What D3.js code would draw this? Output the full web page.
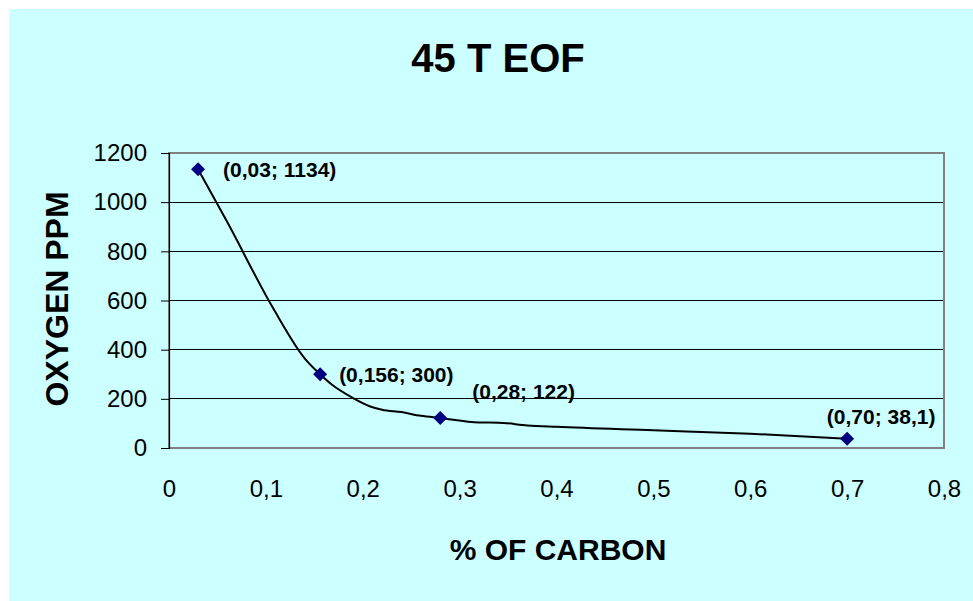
<!DOCTYPE html>
<html>
<head>
<meta charset="utf-8">
<script src="https://cdn.jsdelivr.net/npm/d3@7"></script>
<style>
	body { margin: 0; background: #fff; }
	svg { display: block; font-family: Arial, "Liberation Sans", sans-serif; }
</style>
</head>
<body>
<svg id="chart" width="973" height="601"></svg>
<script>
// data
// smoothed curve (carbon %, oxygen ppm)
const curveCarbon = [0.03, 0.06, 0.108, 0.14, 0.156, 0.168, 0.19, 0.207, 0.22, 0.24, 0.26, 0.28, 0.32, 0.34, 0.37, 0.40, 0.50, 0.60, 0.70]
const curveOxygen = [1134, 920, 565, 365, 300, 258, 203, 170, 156, 146, 131, 122, 104, 103, 92, 86, 72, 58, 38.1]

// measured points with markers
const pointCarbon = [0.03, 0.156, 0.28, 0.70]
const pointOxygen = [1134, 300, 122, 38.1]
const pointLabels = ["(0,03; 1134)", "(0,156; 300)", "(0,28; 122)", "(0,70; 38,1)"]

const xTicks = [0, 0.1, 0.2, 0.3, 0.4, 0.5, 0.6, 0.7, 0.8]
const yTicks = [0, 200, 400, 600, 800, 1000, 1200]

// label placement (dx, dy from marker, anchor)
const labelPlace = [
	{ dx: 25, dy: 8, anchor: "start" },
	{ dx: 19, dy: 8, anchor: "start" },
	{ dx: 32, dy: -19, anchor: "start" },
	{ dx: 34, dy: -15, anchor: "middle" }
]

const svg = d3.select("#chart")

// background
svg.append("rect")
	.attr("x", 9).attr("y", 9)
	.attr("width", 964).attr("height", 592)
	.attr("fill", "#CCFFFF")

let margin = { top: 153, left: 169 },
	width = 775,
	height = 295

let chart = svg.append("g")
	.attr("transform", "translate(" + margin.left + "," + margin.top + ")")

let xScale = d3.scaleLinear().domain([0, 0.8]).range([0, width])
let yScale = d3.scaleLinear().domain([0, 1200]).range([height, 0])

// gridlines
chart.append("g")
	.selectAll("line")
	.data(yTicks.filter(d => d > 0 && d < 1200))
	.join("line")
	.attr("x1", 0).attr("x2", width)
	.attr("y1", d => yScale(d)).attr("y2", d => yScale(d))
	.attr("stroke", "#000")
	.attr("stroke-width", 1)
	.attr("shape-rendering", "crispEdges")

// plot border
chart.append("rect")
	.attr("x", 0).attr("y", 0)
	.attr("width", width).attr("height", height)
	.attr("fill", "none")
	.attr("stroke", "#808080")
	.attr("stroke-width", 2)

// y axis
let yAxis = chart.append("g")
	.call(d3.axisLeft(yScale).tickValues(yTicks).tickSize(8).tickPadding(14).tickFormat(d3.format("d")))
yAxis.select(".domain").attr("stroke", "#000").attr("stroke-width", 1.2)
yAxis.selectAll(".tick line").attr("stroke", "#000")
yAxis.selectAll("text")
	.attr("font-size", 24)
	.attr("font-family", "Arial, 'Liberation Sans', sans-serif")
	.attr("fill", "#000")

// x axis (labels only)
let xAxis = chart.append("g")
	.attr("transform", "translate(0," + height + ")")
	.call(d3.axisBottom(xScale).tickValues(xTicks).tickSize(0).tickPadding(32)
		.tickFormat(d => d3.format("")(d).replace(".", ",")))
xAxis.select(".domain").remove()
xAxis.selectAll("text")
	.attr("font-size", 24)
	.attr("font-family", "Arial, 'Liberation Sans', sans-serif")
	.attr("fill", "#000")

// curve
let curveData = curveCarbon.map((c, i) => ({ x: c, y: curveOxygen[i] }))
chart.append("path")
	.datum(curveData)
	.attr("fill", "none")
	.attr("stroke", "#000")
	.attr("stroke-width", 2)
	.attr("d", d3.line()
		.x(d => xScale(d.x))
		.y(d => yScale(d.y))
		.curve(d3.curveMonotoneX))

// markers
let pointData = pointCarbon.map((c, i) => ({ x: c, y: pointOxygen[i], label: pointLabels[i], place: labelPlace[i] }))
chart.selectAll(".marker")
	.data(pointData)
	.join("path")
	.attr("class", "marker")
	.attr("transform", d => "translate(" + xScale(d.x) + "," + yScale(d.y) + ")")
	.attr("d", "M0,-7L7,0L0,7L-7,0Z")
	.attr("fill", "#000080")

// data labels
chart.selectAll(".dlabel")
	.data(pointData)
	.join("text")
	.attr("class", "dlabel")
	.attr("x", d => xScale(d.x) + d.place.dx)
	.attr("y", d => yScale(d.y) + d.place.dy)
	.attr("text-anchor", d => d.place.anchor)
	.attr("font-size", 21)
	.attr("font-weight", "bold")
	.attr("fill", "#000")
	.text(d => d.label)

// titles
svg.append("text")
	.attr("x", 498).attr("y", 72)
	.attr("text-anchor", "middle")
	.attr("font-size", 40)
	.attr("font-weight", "bold")
	.text("45 T EOF")

svg.append("text")
	.attr("x", 558).attr("y", 560)
	.attr("text-anchor", "middle")
	.attr("font-size", 30)
	.attr("font-weight", "bold")
	.text("% OF CARBON")

svg.append("text")
	.attr("transform", "translate(68,299) rotate(-90)")
	.attr("text-anchor", "middle")
	.attr("font-size", 32)
	.attr("font-weight", "bold")
	.text("OXYGEN PPM")
</script>
</body>
</html>
